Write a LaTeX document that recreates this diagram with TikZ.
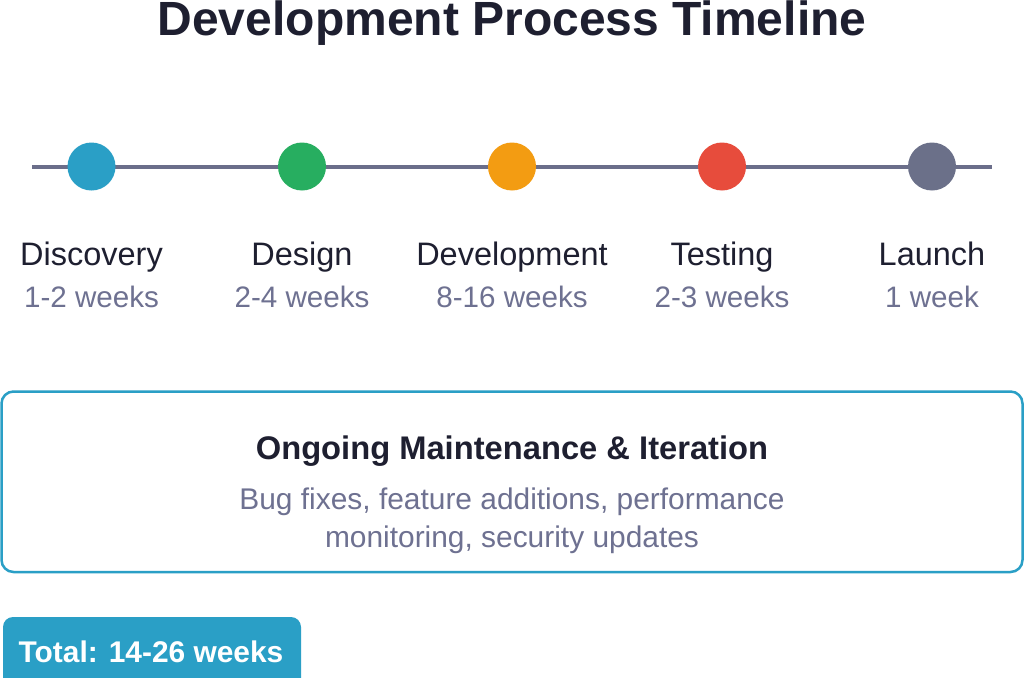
\documentclass[tikz,border=0pt]{standalone}
\usepackage{fontspec}
\setmainfont{Liberation Sans}
\definecolor{dark}{HTML}{1E1F30}
\definecolor{subgray}{HTML}{6E7191}
\definecolor{trackgray}{HTML}{6B6E8A}
\definecolor{cblue}{HTML}{2A9FC6}
\definecolor{cgreen}{HTML}{27AE60}
\definecolor{corange}{HTML}{F39C12}
\definecolor{cred}{HTML}{E74C3C}
\definecolor{cgray}{HTML}{6B7089}
\tikzset{
  dot/.style={circle, minimum size=48pt, inner sep=0pt, draw=none, fill=#1},
  phase/.style={anchor=base, inner sep=0pt, text=dark, font=\fontsize{32.5}{38}\selectfont},
  dur/.style={anchor=base, inner sep=0pt, text=subgray, font=\fontsize{29.6}{35}\selectfont},
  track/.style={draw=trackgray, line width=4pt},
}
\begin{document}
\begin{tikzpicture}[x=1pt,y=-1pt]
\useasboundingbox (0,0) rectangle (1024,677);
\fill[white] (0,0) rectangle (1024,677);
% title
\node[anchor=base, inner sep=0pt, text=dark, font=\bfseries\fontsize{48}{56}\selectfont] (title) at (512,36) {Development Process Timeline};
% track
\coordinate (L) at (32,166.5);
\coordinate (R) at (992,166.5);
\draw[track] (L) -- (R);
\node[dot=cblue] (c1) at (91.5,166.5) {};
\node[dot=cgreen] (c2) at (302,166.5) {};
\node[dot=corange] (c3) at (512,166.5) {};
\node[dot=cred] (c4) at (722,166.5) {};
\node[dot=cgray] (c5) at (932,166.5) {};
% labels
\node[phase] (p1) at (91.5,265) {Discovery};
\node[phase] (p2) at (302,265) {Design};
\node[phase] (p3) at (512,265) {Development};
\node[phase] (p4) at (722,265) {Testing};
\node[phase] (p5) at (932,265) {Launch};
\node[dur] (d1) at (91.5,307) {1-2 weeks};
\node[dur] (d2) at (302,307) {2-4 weeks};
\node[dur] (d3) at (512,307) {8-16 weeks};
\node[dur] (d4) at (722,307) {2-3 weeks};
\node[dur] (d5) at (932,307) {1 week};
% maintenance box
\draw[draw=cblue, line width=2.5pt, rounded corners=12pt, fill=white] (1.5,391.5) rectangle (1022.5,572) coordinate (boxse);
\node[anchor=base, inner sep=0pt, text=dark, font=\bfseries\fontsize{32.7}{38}\selectfont] (mt) at (512,459) {Ongoing Maintenance \& Iteration};
\node[anchor=base, inner sep=0pt, text=subgray, font=\fontsize{29.9}{35}\selectfont] (ms1) at (512,509.5) {Bug fixes, feature additions, performance};
\node[anchor=base, inner sep=0pt, text=subgray, font=\fontsize{29.9}{35}\selectfont] (ms2) at (512,547) {monitoring, security updates};
% total badge
\fill[cblue, rounded corners=10pt] (3,617) rectangle (301,700);
\node[anchor=base, inner sep=0pt, text=white, font=\bfseries\fontsize{29.9}{35}\selectfont] (total) at (151,662) {Total: 14-26 weeks};
\end{tikzpicture}
\end{document}
